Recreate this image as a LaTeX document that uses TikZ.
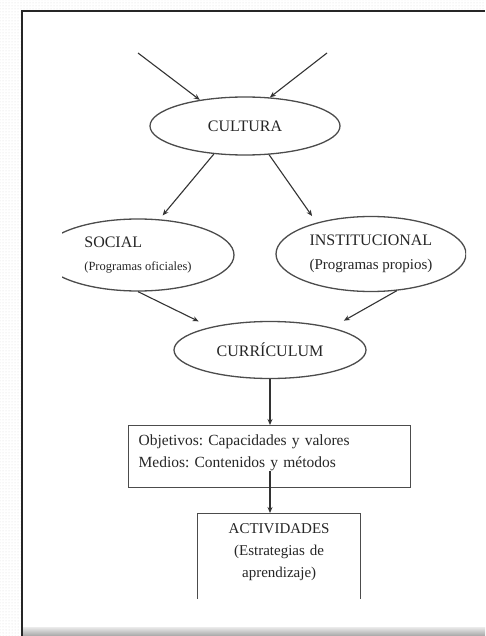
\documentclass[tikz,border=0pt]{standalone}
\usepackage{fontspec}
\setmainfont{Liberation Serif}
\usetikzlibrary{arrows.meta,calc,patterns,shapes.geometric}
\tikzset{
	elipse/.style={draw=black!70, line width=1.3pt, ellipse, inner sep=0pt, align=left, text=black!85},
	caja/.style={draw=black!70, line width=1.3pt, rectangle, inner sep=0pt, text=black!85},
	flecha/.style={line width=1.1pt, color=black!80, -{Stealth[length=6pt, width=5pt]}}
}
\def\tam#1{\fontsize{#1}{22}\selectfont}
\frenchspacing

\begin{document}
\begin{tikzpicture}[x=1pt, y=-1pt]
			%%%%% START %%%%%
			
			\useasboundingbox (0, 0) rectangle (485, 636);
			\fill[pattern=dots, pattern color=black!15] (0, 0) rectangle (485, 636);
			\fill[white] (22, 11) rectangle (485, 627);
			\shade[top color=black!8, bottom color=black!35] (22, 627) rectangle (485, 636);
			\draw[line width=1.2pt, color=black!85] (22, 636) -- (22, 11) -- (485, 11);
			
			\begin{scope}
			\clip (62, 52) rectangle (466, 598);
			
			\coordinate (arriba izq) at (138, 53);
			\coordinate (arriba der) at (327, 53);
			
			\node[elipse, align=center, minimum width=190, minimum height=58, font=\tam{16}] (cultura) at (245, 126) {CULTURA};
			
			\node[elipse, minimum width=192, minimum height=72, font=\tam{16}] (social) at (138, 255) {{\tam{16}SOCIAL}\\[1pt]{\tam{12.5}(Programas oficiales)}};
			\node[elipse, minimum width=190, minimum height=75, font=\tam{16}] (inst) at (371, 254) {{\tam{16}INSTITUCIONAL}\\[2pt]{\tam{15}(Programas propios)}};
			
			\node[elipse, align=center, minimum width=192, minimum height=57, font=\tam{16}] (curriculum) at (270, 350) {CURRÍCULUM};
			
			\node[caja, anchor=north west, inner xsep=10pt, text width=262, align=left, text height=20, text depth=42, font=\tam{15.5}] (obj) at (128, 425) {Objetivos: Capacidades y valores\\Medios: Contenidos y métodos};
			\node[caja, anchor=north west, text width=163, align=center, text height=20, text depth=100, font=\tam{15}] (act) at (197, 513) {ACTIVIDADES\\(Estrategias de\\aprendizaje)};
			
			\draw[flecha] (arriba izq) -- (cultura.150);
			\draw[flecha] (arriba der) -- (cultura.49);
			\draw[flecha, shorten >=5pt] (cultura.222) -- (social.59);
			\draw[flecha, shorten >=8pt] (cultura.310) -- (inst.150);
			\draw[flecha, shorten >=13pt] (social.270) -- (curriculum.159);
			\draw[flecha, shorten >=14pt] (inst.305) -- (curriculum.20);
			\draw[flecha] (curriculum.south) -- (obj.north -| curriculum.south);
			\draw[flecha] ($(obj.south -| curriculum.south)+(0, -17)$) -- (act.north -| curriculum.south);
			\end{scope}
			
			%%%%% END %%%%%
\end{tikzpicture}
\end{document}
